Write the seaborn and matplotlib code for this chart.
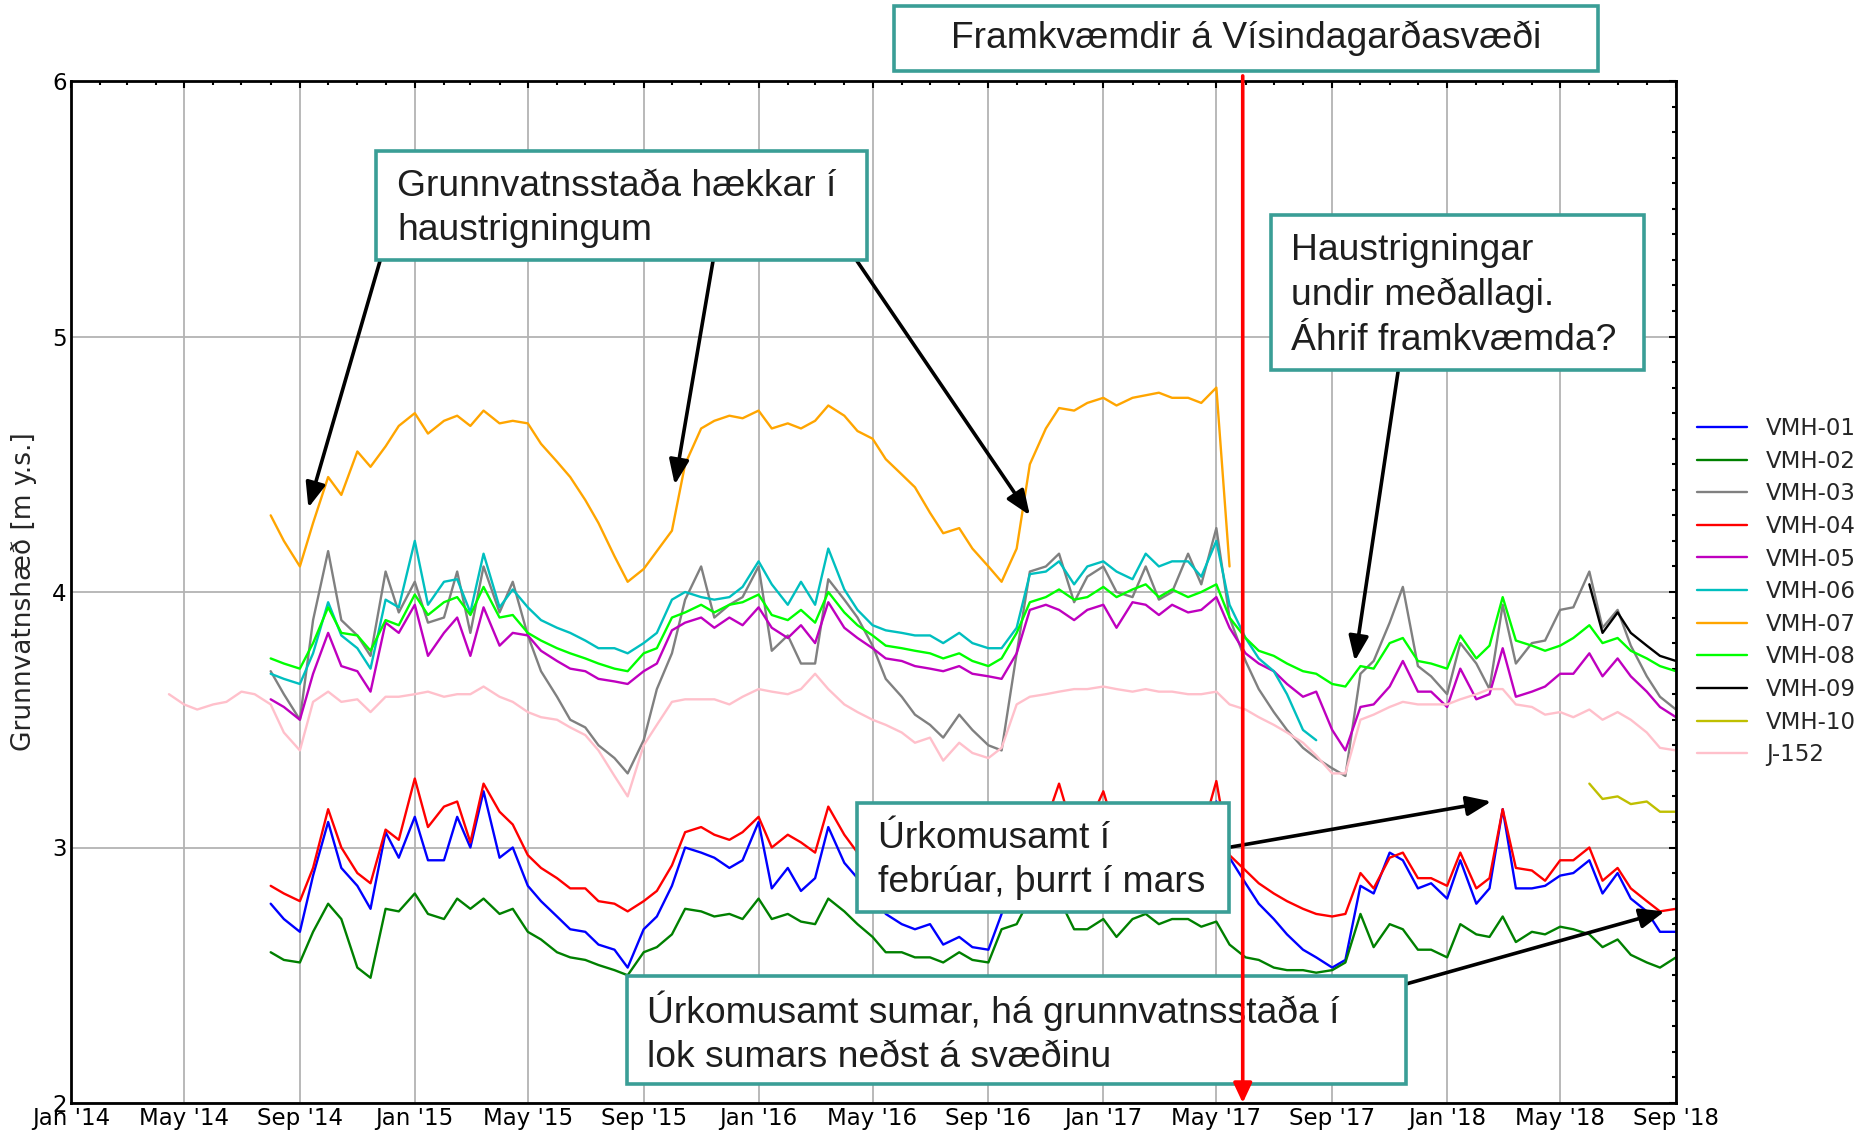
import matplotlib
matplotlib.use("Agg")
from matplotlib import pyplot as plt
import matplotlib.dates as mdates
import matplotlib.ticker as mticker
from matplotlib.patches import Rectangle
import pandas as pd
import seaborn as sns

W, H = 1862, 1132
NA = [None]

# half-monthly readings (1st and 15th), Jan 2014 .. Sep 2018
dates = pd.date_range("2014-01-01", "2018-09-01", freq="SMS")

vmh01 = (NA * 14 + [2.78, 2.72, 2.67, 2.89, 3.10, 2.92, 2.85, 2.76, 3.06, 2.96]
         + [3.12, 2.95, 2.95, 3.12, 3.00, 3.22, 2.96, 3.00, 2.85, 2.79, 2.73, 2.68,
            2.67, 2.62, 2.60, 2.53, 2.68, 2.73, 2.85, 3.00, 2.98, 2.96, 2.92, 2.95]
         + [3.10, 2.84, 2.92, 2.83, 2.88, 3.08, 2.94, 2.88, 2.82, 2.74, 2.70, 2.68,
            2.70, 2.62, 2.65, 2.61, 2.60, 2.74, 2.92, 2.98, 3.02, 3.15, 2.93, 2.98]
         + [3.12, 2.94, 3.00, 3.04, 2.92, 3.00, 3.04, 2.95, 3.18, 2.96, 2.86, 2.78,
            2.72, 2.66, 2.60, 2.57, 2.53, 2.56, 2.85, 2.82, 2.98, 2.95, 2.84, 2.86]
         + [2.80, 2.95, 2.78, 2.84, 3.15, 2.84, 2.84, 2.85, 2.89, 2.90, 2.95, 2.82,
            2.90, 2.80, 2.75, 2.67, 2.67])

vmh02 = (NA * 14 + [2.59, 2.56, 2.55, 2.67, 2.78, 2.72, 2.53, 2.49, 2.76, 2.75]
         + [2.82, 2.74, 2.72, 2.80, 2.76, 2.80, 2.74, 2.76, 2.67, 2.64, 2.59, 2.57,
            2.56, 2.54, 2.52, 2.50, 2.59, 2.61, 2.66, 2.76, 2.75, 2.73, 2.74, 2.72]
         + [2.80, 2.72, 2.74, 2.71, 2.70, 2.80, 2.75, 2.70, 2.65, 2.59, 2.59, 2.57,
            2.57, 2.55, 2.59, 2.56, 2.55, 2.68, 2.70, 2.80, 2.84, 2.80, 2.68, 2.68]
         + [2.72, 2.65, 2.72, 2.74, 2.70, 2.72, 2.72, 2.69, 2.71, 2.62, 2.57, 2.56,
            2.53, 2.52, 2.52, 2.51, 2.52, 2.55, 2.74, 2.61, 2.70, 2.68, 2.60, 2.60]
         + [2.57, 2.70, 2.66, 2.65, 2.73, 2.63, 2.67, 2.66, 2.69, 2.68, 2.66, 2.61,
            2.64, 2.58, 2.55, 2.53, 2.57])

vmh03 = (NA * 14 + [3.69, 3.60, 3.50, 3.89, 4.16, 3.89, 3.83, 3.75, 4.08, 3.92]
         + [4.04, 3.88, 3.90, 4.08, 3.84, 4.10, 3.92, 4.04, 3.83, 3.69, 3.59, 3.50,
            3.47, 3.40, 3.35, 3.29, 3.42, 3.62, 3.76, 3.97, 4.10, 3.90, 3.95, 3.98]
         + [4.10, 3.77, 3.83, 3.72, 3.72, 4.05, 3.97, 3.90, 3.79, 3.66, 3.59, 3.52,
            3.48, 3.43, 3.52, 3.46, 3.40, 3.38, 3.76, 4.08, 4.10, 4.15, 3.96, 4.06]
         + [4.10, 4.00, 3.98, 4.10, 3.97, 4.00, 4.15, 4.03, 4.25, 3.90, 3.73, 3.62,
            3.53, 3.46, 3.39, 3.35, 3.31, 3.28, 3.68, 3.73, 3.88, 4.02, 3.71, 3.67]
         + [3.60, 3.80, 3.72, 3.62, 3.95, 3.72, 3.80, 3.81, 3.93, 3.94, 4.08, 3.86,
            3.93, 3.79, 3.67, 3.59, 3.54])

vmh04 = (NA * 14 + [2.85, 2.82, 2.79, 2.92, 3.15, 3.00, 2.90, 2.86, 3.07, 3.03]
         + [3.27, 3.08, 3.16, 3.18, 3.02, 3.25, 3.14, 3.09, 2.97, 2.92, 2.88, 2.84,
            2.84, 2.79, 2.78, 2.75, 2.79, 2.83, 2.93, 3.06, 3.08, 3.05, 3.03, 3.06]
         + [3.12, 3.00, 3.05, 3.02, 2.98, 3.16, 3.05, 2.98, 2.95, 2.90, 2.87, 2.84,
            2.83, 2.81, 2.86, 2.79, 2.75, 2.88, 3.00, 3.05, 3.10, 3.25, 3.05, 3.08]
         + [3.22, 3.05, 3.10, 3.12, 3.02, 3.10, 3.12, 3.05, 3.26, 2.97, 2.91, 2.86,
            2.82, 2.79, 2.76, 2.74, 2.73, 2.74, 2.90, 2.84, 2.96, 2.98, 2.88, 2.88]
         + [2.85, 2.98, 2.84, 2.88, 3.15, 2.92, 2.91, 2.87, 2.95, 2.95, 3.00, 2.87,
            2.92, 2.84, 2.79, 2.75, 2.76])

vmh05 = (NA * 14 + [3.58, 3.55, 3.50, 3.68, 3.84, 3.71, 3.69, 3.61, 3.88, 3.84]
         + [3.95, 3.75, 3.84, 3.90, 3.75, 3.94, 3.79, 3.84, 3.83, 3.77, 3.73, 3.70,
            3.69, 3.66, 3.65, 3.64, 3.69, 3.72, 3.85, 3.88, 3.90, 3.86, 3.90, 3.87]
         + [3.94, 3.86, 3.82, 3.87, 3.80, 3.96, 3.86, 3.82, 3.78, 3.74, 3.73, 3.71,
            3.70, 3.69, 3.71, 3.68, 3.67, 3.66, 3.76, 3.93, 3.95, 3.93, 3.89, 3.93]
         + [3.95, 3.86, 3.96, 3.95, 3.91, 3.95, 3.92, 3.93, 3.98, 3.86, 3.76, 3.72,
            3.69, 3.64, 3.59, 3.61, 3.46, 3.38, 3.55, 3.56, 3.63, 3.73, 3.61, 3.61]
         + [3.55, 3.70, 3.58, 3.60, 3.78, 3.59, 3.61, 3.63, 3.68, 3.68, 3.76, 3.67,
            3.74, 3.67, 3.61, 3.55, 3.51])

vmh06 = (NA * 14 + [3.68, 3.66, 3.64, 3.76, 3.96, 3.83, 3.78, 3.70, 3.97, 3.94]
         + [4.20, 3.95, 4.04, 4.05, 3.92, 4.15, 3.94, 4.01, 3.94, 3.89, 3.86, 3.84,
            3.81, 3.78, 3.78, 3.76, 3.80, 3.84, 3.97, 4.00, 3.98, 3.97, 3.98, 4.02]
         + [4.12, 4.03, 3.95, 4.04, 3.95, 4.17, 4.01, 3.93, 3.87, 3.85, 3.84, 3.83,
            3.83, 3.80, 3.84, 3.80, 3.78, 3.78, 3.86, 4.07, 4.08, 4.12, 4.03, 4.10]
         + [4.12, 4.08, 4.05, 4.15, 4.10, 4.12, 4.12, 4.06, 4.20, 3.95, 3.82, 3.74,
            3.69, 3.60, 3.46, 3.42] + NA * 8
         + NA * 17)

vmh07 = (NA * 14 + [4.30, 4.20, 4.10, 4.27, 4.45, 4.38, 4.55, 4.49, 4.57, 4.65]
         + [4.70, 4.62, 4.67, 4.69, 4.65, 4.71, 4.66, 4.67, 4.66, 4.58, 4.51, 4.45,
            4.36, 4.27, 4.14, 4.04, 4.09, 4.16, 4.24, 4.50, 4.64, 4.67, 4.69, 4.68]
         + [4.71, 4.64, 4.66, 4.64, 4.67, 4.73, 4.69, 4.63, 4.60, 4.52, 4.46, 4.41,
            4.31, 4.23, 4.25, 4.17, 4.10, 4.04, 4.17, 4.50, 4.64, 4.72, 4.71, 4.74]
         + [4.76, 4.73, 4.76, 4.77, 4.78, 4.76, 4.76, 4.74, 4.80, 4.10] + NA * 14
         + NA * 17)

vmh08 = (NA * 14 + [3.74, 3.72, 3.70, 3.80, 3.94, 3.84, 3.83, 3.77, 3.89, 3.87]
         + [3.99, 3.91, 3.96, 3.98, 3.91, 4.02, 3.90, 3.91, 3.84, 3.81, 3.78, 3.76,
            3.74, 3.72, 3.70, 3.69, 3.76, 3.78, 3.90, 3.92, 3.95, 3.92, 3.95, 3.96]
         + [3.99, 3.91, 3.89, 3.93, 3.88, 4.00, 3.92, 3.87, 3.83, 3.79, 3.78, 3.77,
            3.76, 3.74, 3.76, 3.73, 3.71, 3.74, 3.84, 3.96, 3.98, 4.01, 3.97, 3.98]
         + [4.02, 3.98, 4.01, 4.03, 3.98, 4.01, 3.98, 4.00, 4.03, 3.90, 3.82, 3.77,
            3.75, 3.72, 3.69, 3.68, 3.64, 3.63, 3.71, 3.70, 3.80, 3.82, 3.73, 3.72]
         + [3.70, 3.83, 3.74, 3.79, 3.98, 3.81, 3.79, 3.77, 3.79, 3.82, 3.87, 3.80,
            3.82, 3.77, 3.74, 3.71, 3.69])

vmh09 = NA * 96 + NA * 10 + [4.03, 3.84, 3.92, 3.84, 3.79, 3.75, 3.73]

vmh10 = NA * 96 + NA * 10 + [3.25, 3.19, 3.20, 3.17, 3.18, 3.14, 3.14]

j152 = (NA * 7 + [3.60, 3.56, 3.54, 3.56, 3.57, 3.61, 3.60, 3.56, 3.45, 3.38, 3.57,
                  3.61, 3.57, 3.58, 3.53, 3.59, 3.59]
        + [3.60, 3.61, 3.59, 3.60, 3.60, 3.63, 3.59, 3.57, 3.53, 3.51, 3.50, 3.47,
           3.44, 3.38, 3.28, 3.20, 3.40, 3.48, 3.57, 3.58, 3.58, 3.58, 3.56, 3.59]
        + [3.62, 3.61, 3.60, 3.62, 3.68, 3.62, 3.56, 3.53, 3.50, 3.48, 3.45, 3.41,
           3.43, 3.34, 3.41, 3.37, 3.35, 3.39, 3.56, 3.59, 3.60, 3.61, 3.62, 3.62]
        + [3.63, 3.62, 3.61, 3.62, 3.61, 3.61, 3.60, 3.60, 3.61, 3.56, 3.54, 3.51,
           3.48, 3.45, 3.41, 3.36, 3.29, 3.29, 3.50, 3.52, 3.55, 3.57, 3.56, 3.56]
        + [3.56, 3.58, 3.60, 3.62, 3.62, 3.56, 3.55, 3.52, 3.53, 3.51, 3.54, 3.50,
           3.53, 3.50, 3.45, 3.39, 3.38])

names = ["VMH-01", "VMH-02", "VMH-03", "VMH-04", "VMH-05", "VMH-06",
         "VMH-07", "VMH-08", "VMH-09", "VMH-10", "J-152"]
series = [vmh01, vmh02, vmh03, vmh04, vmh05, vmh06, vmh07, vmh08, vmh09, vmh10, j152]
# plain matplotlib colours (seaborn would remap the one-letter codes)
colors = ["#0000ff", "#008000", "#808080", "#ff0000", "#bf00bf", "#00bfbf",
          "#ffa500", "#00ff00", "#000000", "#bfbf00", "#ffc0cb"]

framkvaemdir_start = pd.Timestamp("2017-05-29")

df = pd.concat([pd.DataFrame({"Dags": dates, "Hæð": vals, "Holur": name})
                for name, vals in zip(names, series)])
df["Hæð"] = pd.to_numeric(df["Hæð"])
df = df.dropna()

sns.set_theme(style="white")
plt.rcParams["font.family"] = ["DejaVu Sans"]

fig = plt.figure(figsize=(W / 100, H / 100), dpi=100)
ax = fig.add_axes([71 / W, 1 - 1103 / H, (1676 - 71) / W, (1103 - 81) / H])

sns.lineplot(data=df, x="Dags", y="Hæð", hue="Holur", hue_order=names,
             palette=dict(zip(names, colors)), estimator=None, lw=1.7,
             legend=False, ax=ax)

ax.set_xlim(pd.Timestamp("2014-01-01"), pd.Timestamp("2018-09-01"))
ax.set_ylim(2, 6)
ax.xaxis.set_major_locator(mdates.MonthLocator(bymonth=[1, 5, 9]))
ax.xaxis.set_minor_locator(mdates.MonthLocator())
ax.xaxis.set_major_formatter(mdates.DateFormatter("%b '%y"))
ax.yaxis.set_major_locator(mticker.MultipleLocator(1))
ax.yaxis.set_minor_locator(mticker.MultipleLocator(0.1))
ax.grid(True, which="major", color="#b3b3b3", lw=1.3)
ax.set_axisbelow(True)
for sp in ax.spines.values():
    sp.set_visible(True)
    sp.set_color("black")
    sp.set_linewidth(2)
ax.tick_params(which="both", direction="in", top=True, right=True, colors="black",
               labelsize=16.5, width=1.5)
ax.tick_params(which="major", length=5, pad=3)
ax.tick_params(which="minor", length=3)
ax.set_xlabel("")
ax.set_ylabel("Grunnvatnshæð [m y.s.]", fontsize=19)
ax.yaxis.set_label_coords(-0.021, 0.5)

# legend outside, no frame
handles = ax.get_lines()[:len(names)]
fig.legend(handles, names, loc="upper left", bbox_to_anchor=(1697 / W, 1 - 417 / H),
           frameon=False, fontsize=16.5, handlelength=2.2, handletextpad=0.8,
           labelspacing=0.42, borderpad=0, borderaxespad=0)

teal = "#3a9e96"
boxfont = dict(family=["Liberation Sans", "DejaVu Sans"], size=26.8, color="#1e1e1e")


def textbox(x0, y0, x1, y1, text, tx=None):
    ax.add_patch(Rectangle((x0 / W, 1 - y1 / H), (x1 - x0) / W, (y1 - y0) / H,
                           transform=fig.transFigure, facecolor="white", edgecolor=teal,
                           lw=2.6, clip_on=False, zorder=5))
    if tx is None:
        ax.text((x0 + x1) / 2 / W, 1 - (y0 + y1) / 2 / H, text, transform=fig.transFigure,
                ha="center", va="center", zorder=6, fontdict=boxfont)
    else:
        ax.text(tx / W, 1 - ((y0 + y1) / 2 + 3) / H, text, transform=fig.transFigure,
                ha="left", va="center", linespacing=1.34, zorder=6, fontdict=boxfont)


def pointer(x_px, y_px, when, level):
    ax.annotate("", xy=(mdates.date2num(pd.Timestamp(when)), level), xycoords="data",
                xytext=(x_px / W, 1 - y_px / H), textcoords="figure fraction",
                arrowprops=dict(arrowstyle="-|>,head_length=0.75,head_width=0.3",
                                color="black", lw=2.6, shrinkA=0, shrinkB=0,
                                mutation_scale=20),
                zorder=4, annotation_clip=False)


pointer(380, 261, "2014-09-10", 4.33)
pointer(713, 261, "2015-10-04", 4.42)
pointer(857, 261, "2016-10-15", 4.30)
pointer(1398, 372, "2017-09-25", 3.73)
pointer(1231, 847, "2018-02-17", 3.18)
pointer(1406, 984, "2018-08-20", 2.75)

textbox(894, 6, 1598, 71, "Framkvæmdir á Vísindagarðasvæði")
textbox(376, 151, 867, 260, "Grunnvatnsstaða hækkar í\nhaustrigningum", tx=397)
textbox(1271, 215, 1644, 370, "Haustrigningar\nundir meðallagi.\nÁhrif framkvæmda?", tx=1291)
textbox(857, 803, 1229, 912, "Úrkomusamt í\nfebrúar, þurrt í mars", tx=878)
textbox(627, 976, 1406, 1084,
        "Úrkomusamt sumar, há grunnvatnsstaða í\nlok sumars neðst á svæðinu", tx=647)

# start of construction
xs = mdates.date2num(framkvaemdir_start)
ax.annotate("", xy=(xs, 2.0), xycoords="data", xytext=(xs, 6.02), textcoords="data",
            arrowprops=dict(arrowstyle="-|>,head_length=0.6,head_width=0.28",
                            color="red", lw=2.6, shrinkA=0, shrinkB=0, mutation_scale=20),
            zorder=7, annotation_clip=False)

fig.savefig("out.png", dpi=100)
